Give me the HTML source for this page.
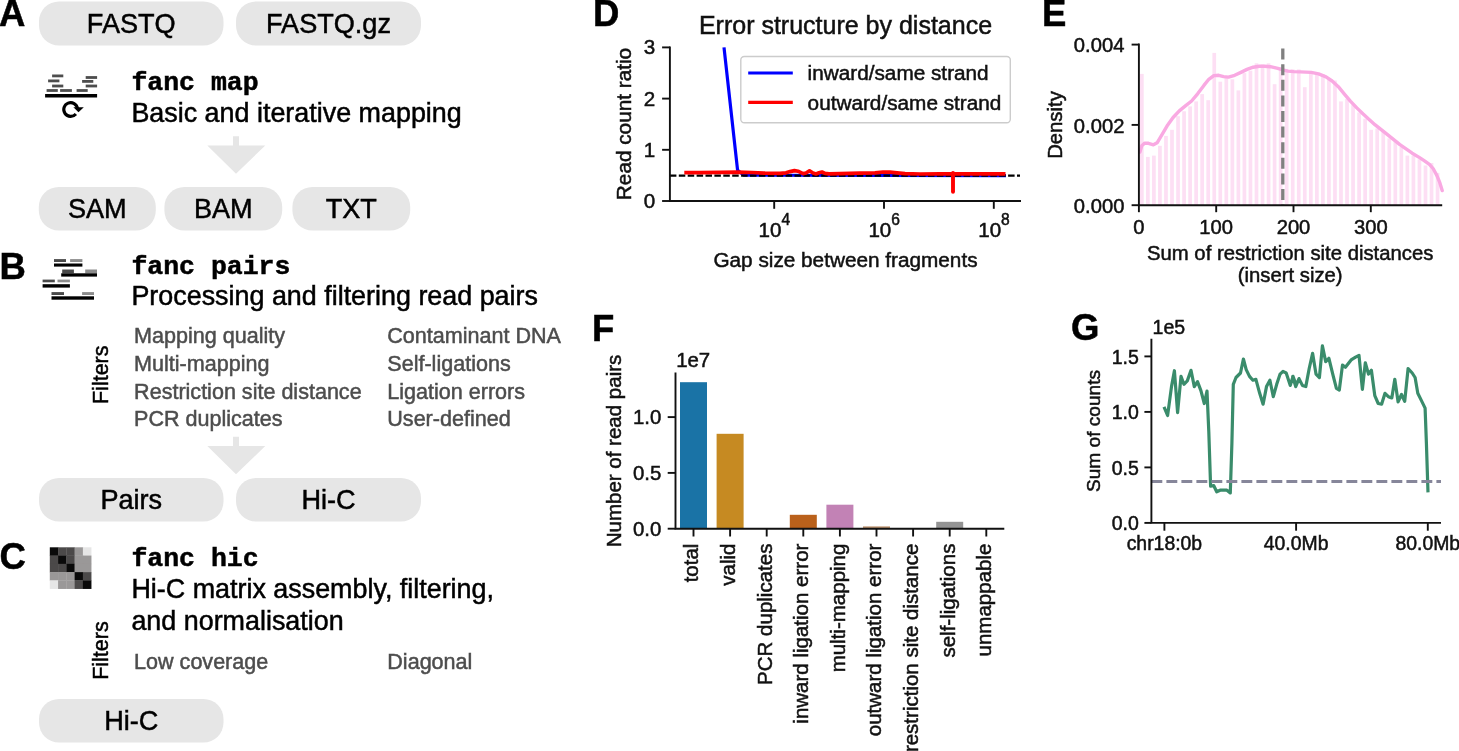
<!DOCTYPE html>
<html lang="en"><head><meta charset="utf-8"><title>FAN-C workflow figure</title>
<style>html,body{margin:0;padding:0;background:#fff;}body{width:1459px;height:751px;overflow:hidden;}svg{display:block;}text{stroke-width:0.5px;}text{font-family:"Liberation Sans", Arial, Helvetica, sans-serif;}</style></head><body>
<svg width="1459" height="751" viewBox="0 0 1459 751">
<rect width="1459" height="751" fill="#fff"/>
<g id="panelA">
<text x="-1" y="25.7" font-size="36.5" fill="#000" stroke="#000" font-weight="bold">A</text>
<rect x="39" y="1.5" width="184.5" height="44.0" rx="20" ry="20" fill="#e6e6e6"/>
<text x="131.25" y="32.7" font-size="27.1" fill="#000" stroke="#000" text-anchor="middle">FASTQ</text>
<rect x="236" y="1.5" width="185" height="44.0" rx="20" ry="20" fill="#e6e6e6"/>
<text x="328.5" y="32.7" font-size="27.1" fill="#000" stroke="#000" text-anchor="middle">FASTQ.gz</text>
<line x1="52.1" y1="75.9" x2="63.3" y2="75.9" stroke="#4d4d4d" stroke-width="2.8"/>
<line x1="48.1" y1="80.9" x2="59.4" y2="80.9" stroke="#4d4d4d" stroke-width="2.8"/>
<line x1="52.1" y1="86.0" x2="63.3" y2="86.0" stroke="#4d4d4d" stroke-width="2.8"/>
<line x1="46.6" y1="90.5" x2="57.8" y2="90.5" stroke="#4d4d4d" stroke-width="2.8"/>
<line x1="60.1" y1="90.5" x2="71.9" y2="90.5" stroke="#4d4d4d" stroke-width="2.8"/>
<line x1="76.6" y1="90.5" x2="87.7" y2="90.5" stroke="#4d4d4d" stroke-width="2.8"/>
<line x1="85.7" y1="77.5" x2="97.1" y2="77.5" stroke="#4d4d4d" stroke-width="2.8"/>
<line x1="82.1" y1="81.4" x2="93.3" y2="81.4" stroke="#4d4d4d" stroke-width="2.8"/>
<line x1="85.7" y1="86.0" x2="97.1" y2="86.0" stroke="#4d4d4d" stroke-width="2.8"/>
<line x1="45.1" y1="95.7" x2="97.1" y2="95.7" stroke="#000" stroke-width="3.6"/>
<path d="M 75.9 114.0 A 6.9 6.9 0 1 1 77.5 108.6" fill="none" stroke="#000" stroke-width="3.1"/>
<path d="M 73.4 107.2 L 83.8 107.2 L 78.5 112.2 Z" fill="#000"/>
<text x="131.4" y="89.6" font-size="26.5" fill="#000" stroke="#000" font-weight="bold" style='font-family:"Liberation Mono", "Courier New", monospace'>fanc map</text>
<text x="131.4" y="121.5" font-size="26.9" fill="#000" stroke="#000">Basic and iterative mapping</text>
<path d="M 233 136.2 H 239 V 145.39999999999998 H 265.3 L 236 173.7 L 207.3 145.39999999999998 H 233 Z" fill="#e6e6e6"/>
<rect x="38.8" y="187" width="117.00000000000001" height="43.5" rx="20" ry="20" fill="#e6e6e6"/>
<text x="97.30000000000001" y="218" font-size="27.1" fill="#000" stroke="#000" text-anchor="middle">SAM</text>
<rect x="164.4" y="187" width="117.79999999999998" height="43.5" rx="20" ry="20" fill="#e6e6e6"/>
<text x="223.3" y="218" font-size="27.1" fill="#000" stroke="#000" text-anchor="middle">BAM</text>
<rect x="292.4" y="187" width="117.80000000000001" height="43.5" rx="20" ry="20" fill="#e6e6e6"/>
<text x="351.29999999999995" y="218" font-size="27.1" fill="#000" stroke="#000" text-anchor="middle">TXT</text>
</g>
<g id="panelB">
<text x="-0.5" y="278.5" font-size="36.5" fill="#000" stroke="#000" font-weight="bold">B</text>
<rect x="54.00" y="259.10" width="12.00" height="2.90" fill="#4a4a4a"/>
<rect x="70.10" y="259.10" width="12.30" height="2.90" fill="#8c8c8c"/>
<rect x="54.00" y="263.50" width="28.40" height="3.10" fill="#000"/>
<rect x="62.20" y="269.50" width="11.70" height="3.80" fill="#4a4a4a"/>
<rect x="85.20" y="269.50" width="11.80" height="3.80" fill="#8c8c8c"/>
<rect x="61.20" y="273.30" width="35.80" height="3.30" fill="#000"/>
<rect x="42.60" y="279.60" width="12.20" height="2.70" fill="#4a4a4a"/>
<rect x="57.50" y="279.60" width="12.40" height="2.70" fill="#8c8c8c"/>
<rect x="42.60" y="284.20" width="27.30" height="3.40" fill="#000"/>
<rect x="51.50" y="292.10" width="12.50" height="2.90" fill="#4a4a4a"/>
<rect x="82.10" y="292.10" width="11.90" height="2.90" fill="#8c8c8c"/>
<rect x="51.50" y="296.30" width="42.50" height="3.40" fill="#000"/>
<text x="131.4" y="273.5" font-size="26.5" fill="#000" stroke="#000" font-weight="bold" style='font-family:"Liberation Mono", "Courier New", monospace'>fanc pairs</text>
<text x="131.4" y="304.8" font-size="26.9" fill="#000" stroke="#000">Processing and filtering read pairs</text>
<text x="134.1" y="343.3" font-size="21.55" fill="#4d4d4d" stroke="#4d4d4d">Mapping quality</text>
<text x="387.3" y="343.3" font-size="21.55" fill="#4d4d4d" stroke="#4d4d4d">Contaminant DNA</text>
<text x="134.1" y="370.9" font-size="21.55" fill="#4d4d4d" stroke="#4d4d4d">Multi-mapping</text>
<text x="387.3" y="370.9" font-size="21.55" fill="#4d4d4d" stroke="#4d4d4d">Self-ligations</text>
<text x="134.1" y="398.5" font-size="21.55" fill="#4d4d4d" stroke="#4d4d4d">Restriction site distance</text>
<text x="387.3" y="398.5" font-size="21.55" fill="#4d4d4d" stroke="#4d4d4d">Ligation errors</text>
<text x="134.1" y="426.1" font-size="21.55" fill="#4d4d4d" stroke="#4d4d4d">PCR duplicates</text>
<text x="387.3" y="426.1" font-size="21.55" fill="#4d4d4d" stroke="#4d4d4d">User-defined</text>
<text x="108.2" y="404.0" font-size="21.5" fill="#000" stroke="#000" transform="rotate(-90 108.2 404.0)">Filters</text>
<path d="M 233 436.8 H 239 V 446.0 H 265.3 L 236 474.3 L 207.3 446.0 H 233 Z" fill="#e6e6e6"/>
<rect x="39" y="478" width="184.5" height="43.5" rx="20" ry="20" fill="#e6e6e6"/>
<text x="131.25" y="509" font-size="27.1" fill="#000" stroke="#000" text-anchor="middle">Pairs</text>
<rect x="236" y="478" width="185" height="43.5" rx="20" ry="20" fill="#e6e6e6"/>
<text x="328.5" y="509" font-size="27.1" fill="#000" stroke="#000" text-anchor="middle">Hi-C</text>
</g>
<g id="panelC">
<text x="-0.5" y="569" font-size="36.5" fill="#000" stroke="#000" font-weight="bold">C</text>
<rect x="49.80" y="547.30" width="8.57" height="8.57" fill="#0a0a0a"/>
<rect x="58.07" y="547.30" width="8.57" height="8.57" fill="#4b4949"/>
<rect x="66.34" y="547.30" width="8.57" height="8.57" fill="#4b4949"/>
<rect x="74.61" y="547.30" width="8.57" height="8.57" fill="#9a9898"/>
<rect x="82.88" y="547.30" width="8.57" height="8.57" fill="#e6e6e6"/>
<rect x="49.80" y="555.57" width="8.57" height="8.57" fill="#4b4949"/>
<rect x="58.07" y="555.57" width="8.57" height="8.57" fill="#0a0a0a"/>
<rect x="66.34" y="555.57" width="8.57" height="8.57" fill="#4b4949"/>
<rect x="74.61" y="555.57" width="8.57" height="8.57" fill="#9a9898"/>
<rect x="82.88" y="555.57" width="8.57" height="8.57" fill="#9a9898"/>
<rect x="49.80" y="563.84" width="8.57" height="8.57" fill="#4b4949"/>
<rect x="58.07" y="563.84" width="8.57" height="8.57" fill="#4b4949"/>
<rect x="66.34" y="563.84" width="8.57" height="8.57" fill="#0a0a0a"/>
<rect x="74.61" y="563.84" width="8.57" height="8.57" fill="#9a9898"/>
<rect x="82.88" y="563.84" width="8.57" height="8.57" fill="#9a9898"/>
<rect x="49.80" y="572.11" width="8.57" height="8.57" fill="#9a9898"/>
<rect x="58.07" y="572.11" width="8.57" height="8.57" fill="#9a9898"/>
<rect x="66.34" y="572.11" width="8.57" height="8.57" fill="#9a9898"/>
<rect x="74.61" y="572.11" width="8.57" height="8.57" fill="#0a0a0a"/>
<rect x="82.88" y="572.11" width="8.57" height="8.57" fill="#4b4949"/>
<rect x="49.80" y="580.38" width="8.57" height="8.57" fill="#e6e6e6"/>
<rect x="58.07" y="580.38" width="8.57" height="8.57" fill="#9a9898"/>
<rect x="66.34" y="580.38" width="8.57" height="8.57" fill="#9a9898"/>
<rect x="74.61" y="580.38" width="8.57" height="8.57" fill="#4b4949"/>
<rect x="82.88" y="580.38" width="8.57" height="8.57" fill="#0a0a0a"/>
<text x="131.4" y="565.6" font-size="26.5" fill="#000" stroke="#000" font-weight="bold" style='font-family:"Liberation Mono", "Courier New", monospace'>fanc hic</text>
<text x="131.4" y="598.1" font-size="26.9" fill="#000" stroke="#000">Hi-C matrix assembly, filtering,</text>
<text x="131.4" y="629.8" font-size="26.9" fill="#000" stroke="#000">and normalisation</text>
<text x="134.1" y="668.8" font-size="21.55" fill="#4d4d4d" stroke="#4d4d4d">Low coverage</text>
<text x="387.3" y="668.8" font-size="21.55" fill="#4d4d4d" stroke="#4d4d4d">Diagonal</text>
<text x="108.2" y="679.8" font-size="21.5" fill="#000" stroke="#000" transform="rotate(-90 108.2 679.8)">Filters</text>
<rect x="39" y="699" width="184.5" height="43.5" rx="20" ry="20" fill="#e6e6e6"/>
<text x="131.25" y="730" font-size="27.1" fill="#000" stroke="#000" text-anchor="middle">Hi-C</text>
</g>
<g id="panelD">
<text x="593" y="25.7" font-size="36.5" fill="#000" stroke="#000" font-weight="bold">D</text>
<text x="845.5" y="34" font-size="25.0" fill="#111" stroke="#111" text-anchor="middle">Error structure by distance</text>
<path d="M 724 47.4 L 737.6 170.4 L 744 175.2 L 1006 175.7" fill="none" stroke="#0000ff" stroke-width="3.2" stroke-linejoin="round"/>
<line x1="669.9" y1="175.6" x2="1020" y2="175.6" stroke="#000" stroke-width="2.3" stroke-dasharray="6.5 2.4"/>
<path d="M 684.3 172.7 L 700.0 172.6 L 720.0 172.3 L 738.0 172.2 L 752.0 172.5 L 765.0 173.2 L 780.0 173.4 L 786.0 172.8 L 790.0 171.6 L 794.5 170.6 L 798.0 171.2 L 803.0 173.6 L 806.0 173.0 L 809.5 170.8 L 813.0 173.0 L 816.0 174.0 L 819.0 172.8 L 822.0 172.0 L 825.0 173.4 L 829.0 173.8 L 840.0 173.6 L 860.0 173.2 L 875.0 172.8 L 883.0 172.0 L 890.0 172.2 L 897.0 172.8 L 905.0 173.6 L 920.0 174.0 L 940.0 173.9 L 975.0 173.8 L 1005.5 173.9" fill="none" stroke="#ff0000" stroke-width="3.7" stroke-linejoin="round"/>
<line x1="953" y1="173" x2="953" y2="191.8" stroke="#ff0000" stroke-width="3.9" stroke-linecap="round"/>
<path d="M 669.9 46.6 V 201.0 H 1021.0" fill="none" stroke="#111" stroke-width="1.9"/>
<line x1="662.1" y1="201.0" x2="669.9" y2="201.0" stroke="#111" stroke-width="1.9"/>
<text x="655.2" y="208.0" font-size="20.6" fill="#111" stroke="#111" text-anchor="end">0</text>
<line x1="662.1" y1="149.8" x2="669.9" y2="149.8" stroke="#111" stroke-width="1.9"/>
<text x="655.2" y="156.8" font-size="20.6" fill="#111" stroke="#111" text-anchor="end">1</text>
<line x1="662.1" y1="98.6" x2="669.9" y2="98.6" stroke="#111" stroke-width="1.9"/>
<text x="655.2" y="105.6" font-size="20.6" fill="#111" stroke="#111" text-anchor="end">2</text>
<line x1="662.1" y1="47.4" x2="669.9" y2="47.4" stroke="#111" stroke-width="1.9"/>
<text x="655.2" y="54.4" font-size="20.6" fill="#111" stroke="#111" text-anchor="end">3</text>
<line x1="774.2" y1="201.0" x2="774.2" y2="208.8" stroke="#111" stroke-width="1.9"/>
<text x="758.6" y="237.3" font-size="20.6" fill="#111" stroke="#111">10<tspan dy="-12.2" font-size="15.6">4</tspan></text>
<line x1="884.0" y1="201.0" x2="884.0" y2="208.8" stroke="#111" stroke-width="1.9"/>
<text x="868.4" y="237.3" font-size="20.6" fill="#111" stroke="#111">10<tspan dy="-12.2" font-size="15.6">6</tspan></text>
<line x1="993.8" y1="201.0" x2="993.8" y2="208.8" stroke="#111" stroke-width="1.9"/>
<text x="978.2" y="237.3" font-size="20.6" fill="#111" stroke="#111">10<tspan dy="-12.2" font-size="15.6">8</tspan></text>
<text x="631" y="124" font-size="20.75" fill="#111" stroke="#111" text-anchor="middle" transform="rotate(-90 631 124)">Read count ratio</text>
<text x="845.5" y="266.7" font-size="20.75" fill="#111" stroke="#111" text-anchor="middle">Gap size between fragments</text>
<rect x="740.8" y="56.5" width="269.5" height="66.3" rx="3.5" ry="3.5" fill="#fff" fill-opacity="0.8" stroke="#cccccc" stroke-width="1.4"/>
<line x1="748.2" y1="73" x2="792.8" y2="73" stroke="#0000ff" stroke-width="3.2"/>
<line x1="748.2" y1="102.4" x2="792.8" y2="102.4" stroke="#ff0000" stroke-width="3.2"/>
<text x="807.6" y="80.2" font-size="20.75" fill="#111" stroke="#111">inward/same strand</text>
<text x="807.6" y="109.6" font-size="20.75" fill="#111" stroke="#111">outward/same strand</text>
</g>
<g id="panelE">
<text x="1042" y="25.7" font-size="36.5" fill="#000" stroke="#000" font-weight="bold">E</text>
<g fill="#fddff4">
<rect x="1139.98" y="73.9" width="3.7" height="131.3"/>
<rect x="1146.01" y="156.9" width="3.7" height="48.3"/>
<rect x="1152.05" y="155.6" width="3.7" height="49.6"/>
<rect x="1158.08" y="145.8" width="3.7" height="59.4"/>
<rect x="1164.12" y="135.9" width="3.7" height="69.3"/>
<rect x="1170.15" y="129.8" width="3.7" height="75.4"/>
<rect x="1176.19" y="116.2" width="3.7" height="89.0"/>
<rect x="1182.22" y="111.3" width="3.7" height="93.9"/>
<rect x="1188.26" y="106.4" width="3.7" height="98.8"/>
<rect x="1194.29" y="101.4" width="3.7" height="103.8"/>
<rect x="1200.33" y="94.1" width="3.7" height="111.1"/>
<rect x="1206.36" y="100.2" width="3.7" height="105.0"/>
<rect x="1212.40" y="52.9" width="3.7" height="152.3"/>
<rect x="1218.44" y="81.7" width="3.7" height="123.5"/>
<rect x="1224.47" y="78.0" width="3.7" height="127.2"/>
<rect x="1230.51" y="79.3" width="3.7" height="125.9"/>
<rect x="1236.54" y="90.4" width="3.7" height="114.8"/>
<rect x="1242.58" y="73.1" width="3.7" height="132.1"/>
<rect x="1248.61" y="70.7" width="3.7" height="134.5"/>
<rect x="1254.65" y="63.3" width="3.7" height="141.9"/>
<rect x="1260.68" y="64.5" width="3.7" height="140.7"/>
<rect x="1266.72" y="63.3" width="3.7" height="141.9"/>
<rect x="1272.75" y="84.2" width="3.7" height="121.0"/>
<rect x="1278.79" y="67.0" width="3.7" height="138.2"/>
<rect x="1284.82" y="68.9" width="3.7" height="136.3"/>
<rect x="1290.86" y="69.4" width="3.7" height="135.8"/>
<rect x="1296.90" y="69.4" width="3.7" height="135.8"/>
<rect x="1302.93" y="87.2" width="3.7" height="118.0"/>
<rect x="1308.97" y="71.9" width="3.7" height="133.3"/>
<rect x="1315.00" y="73.1" width="3.7" height="132.1"/>
<rect x="1321.04" y="74.3" width="3.7" height="130.9"/>
<rect x="1327.07" y="79.3" width="3.7" height="125.9"/>
<rect x="1333.11" y="80.5" width="3.7" height="124.7"/>
<rect x="1339.14" y="101.4" width="3.7" height="103.8"/>
<rect x="1345.18" y="99.0" width="3.7" height="106.2"/>
<rect x="1351.21" y="105.1" width="3.7" height="100.1"/>
<rect x="1357.25" y="112.5" width="3.7" height="92.7"/>
<rect x="1363.28" y="118.7" width="3.7" height="86.5"/>
<rect x="1369.32" y="129.8" width="3.7" height="75.4"/>
<rect x="1375.36" y="128.5" width="3.7" height="76.7"/>
<rect x="1381.39" y="131.0" width="3.7" height="74.2"/>
<rect x="1387.43" y="138.4" width="3.7" height="66.8"/>
<rect x="1393.46" y="142.1" width="3.7" height="63.1"/>
<rect x="1399.50" y="147.0" width="3.7" height="58.2"/>
<rect x="1405.53" y="155.6" width="3.7" height="49.6"/>
<rect x="1411.57" y="155.6" width="3.7" height="49.6"/>
<rect x="1417.60" y="159.3" width="3.7" height="45.9"/>
<rect x="1423.64" y="165.5" width="3.7" height="39.7"/>
<rect x="1429.67" y="163.0" width="3.7" height="42.2"/>
<rect x="1435.71" y="172.9" width="3.7" height="32.3"/>
</g>
<path d="M 1139.9 152.0 L 1141.8 145.8 L 1144.8 143.1 L 1148.5 143.3 L 1153.4 144.8 L 1157.1 142.8 L 1162.0 134.7 L 1167.0 126.1 L 1173.1 117.5 L 1179.3 110.8 L 1185.4 105.9 L 1191.6 101.0 L 1197.8 93.6 L 1203.9 85.4 L 1208.8 79.3 L 1213.8 75.6 L 1218.7 75.3 L 1223.6 76.6 L 1228.5 77.1 L 1234.7 75.3 L 1240.9 72.4 L 1247.0 69.4 L 1253.2 67.2 L 1259.3 66.2 L 1264.3 66.2 L 1270.4 66.7 L 1277.8 68.4 L 1282.7 69.9 L 1287.7 71.1 L 1293.8 71.6 L 1300.0 71.9 L 1300.1 71.9 L 1311.2 72.4 L 1318.6 73.9 L 1326.0 76.8 L 1332.1 81.0 L 1338.3 86.7 L 1344.4 94.1 L 1350.6 101.4 L 1356.8 107.9 L 1362.9 113.8 L 1369.1 119.4 L 1375.2 124.9 L 1387.5 134.7 L 1399.9 144.6 L 1412.2 153.2 L 1419.6 157.6 L 1424.5 160.8 L 1429.4 164.3 L 1433.1 168.5 L 1436.8 175.4 L 1439.8 182.7 L 1442.2 190.6" fill="none" stroke="#f9a9e2" stroke-width="3.4" stroke-linejoin="round" stroke-linecap="round"/>
<line x1="1282.8" y1="48.6" x2="1282.8" y2="205.2" stroke="#808080" stroke-width="3.3" stroke-dasharray="11 4.6"/>
<path d="M 1138.9 43.4 V 205.2 H 1442.2" fill="none" stroke="#111" stroke-width="1.9"/>
<line x1="1131.6000000000001" y1="205.2" x2="1138.9" y2="205.2" stroke="#111" stroke-width="1.9"/>
<text x="1124.4" y="212.9" font-size="20.2" fill="#111" stroke="#111" text-anchor="end">0.000</text>
<line x1="1131.6000000000001" y1="124.9" x2="1138.9" y2="124.9" stroke="#111" stroke-width="1.9"/>
<text x="1124.4" y="132.6" font-size="20.2" fill="#111" stroke="#111" text-anchor="end">0.002</text>
<line x1="1131.6000000000001" y1="44.6" x2="1138.9" y2="44.6" stroke="#111" stroke-width="1.9"/>
<text x="1124.4" y="52.3" font-size="20.2" fill="#111" stroke="#111" text-anchor="end">0.004</text>
<line x1="1138.9" y1="205.2" x2="1138.9" y2="212.2" stroke="#111" stroke-width="1.9"/>
<text x="1138.9" y="233.6" font-size="20.2" fill="#111" stroke="#111" text-anchor="middle">0</text>
<line x1="1216.2" y1="205.2" x2="1216.2" y2="212.2" stroke="#111" stroke-width="1.9"/>
<text x="1216.2" y="233.6" font-size="20.2" fill="#111" stroke="#111" text-anchor="middle">100</text>
<line x1="1293.5" y1="205.2" x2="1293.5" y2="212.2" stroke="#111" stroke-width="1.9"/>
<text x="1293.5" y="233.6" font-size="20.2" fill="#111" stroke="#111" text-anchor="middle">200</text>
<line x1="1370.8" y1="205.2" x2="1370.8" y2="212.2" stroke="#111" stroke-width="1.9"/>
<text x="1370.8" y="233.6" font-size="20.2" fill="#111" stroke="#111" text-anchor="middle">300</text>
<text x="1061.6" y="125" font-size="20.3" fill="#111" stroke="#111" text-anchor="middle" transform="rotate(-90 1061.6 125)">Density</text>
<text x="1290.2" y="260.3" font-size="20.3" fill="#111" stroke="#111" text-anchor="middle">Sum of restriction site distances</text>
<text x="1290.2" y="281.6" font-size="20.3" fill="#111" stroke="#111" text-anchor="middle">(insert size)</text>
</g>
<g id="panelF">
<text x="592" y="340.6" font-size="36.5" fill="#000" stroke="#000" font-weight="bold">F</text>
<text x="676.2" y="367.4" font-size="20.4" fill="#111" stroke="#111">1e7</text>
<rect x="680.0" y="382.2" width="27.0" height="146.5" fill="#1a73a6"/>
<line x1="693.5" y1="528.7" x2="693.5" y2="536.5" stroke="#111" stroke-width="1.9"/>
<text x="698.4" y="543.6" font-size="20.5" fill="#111" stroke="#111" text-anchor="end" transform="rotate(-90 698.4 543.6)">total</text>
<rect x="716.6" y="433.8" width="27.0" height="94.9" fill="#c68a22"/>
<line x1="730.1" y1="528.7" x2="730.1" y2="536.5" stroke="#111" stroke-width="1.9"/>
<text x="735.0" y="543.6" font-size="20.5" fill="#111" stroke="#111" text-anchor="end" transform="rotate(-90 735.0 543.6)">valid</text>
<line x1="766.7" y1="528.7" x2="766.7" y2="536.5" stroke="#111" stroke-width="1.9"/>
<text x="771.6" y="543.6" font-size="20.5" fill="#111" stroke="#111" text-anchor="end" transform="rotate(-90 771.6 543.6)">PCR duplicates</text>
<rect x="789.8" y="514.8" width="27.0" height="13.9" fill="#ba611b"/>
<line x1="803.3" y1="528.7" x2="803.3" y2="536.5" stroke="#111" stroke-width="1.9"/>
<text x="808.2" y="543.6" font-size="20.5" fill="#111" stroke="#111" text-anchor="end" transform="rotate(-90 808.2 543.6)">inward ligation error</text>
<rect x="826.4" y="504.7" width="27.0" height="24.0" fill="#c282b5"/>
<line x1="839.9" y1="528.7" x2="839.9" y2="536.5" stroke="#111" stroke-width="1.9"/>
<text x="844.8" y="543.6" font-size="20.5" fill="#111" stroke="#111" text-anchor="end" transform="rotate(-90 844.8 543.6)">multi-mapping</text>
<rect x="863.0" y="526.4" width="27.0" height="2.3" fill="#bd926e"/>
<line x1="876.5" y1="528.7" x2="876.5" y2="536.5" stroke="#111" stroke-width="1.9"/>
<text x="881.4" y="543.6" font-size="20.5" fill="#111" stroke="#111" text-anchor="end" transform="rotate(-90 881.4 543.6)">outward ligation error</text>
<line x1="913.1" y1="528.7" x2="913.1" y2="536.5" stroke="#111" stroke-width="1.9"/>
<text x="918.0" y="543.6" font-size="20.5" fill="#111" stroke="#111" text-anchor="end" transform="rotate(-90 918.0 543.6)">restriction site distance</text>
<rect x="936.2" y="521.8" width="27.0" height="6.9" fill="#949494"/>
<line x1="949.7" y1="528.7" x2="949.7" y2="536.5" stroke="#111" stroke-width="1.9"/>
<text x="954.6" y="543.6" font-size="20.5" fill="#111" stroke="#111" text-anchor="end" transform="rotate(-90 954.6 543.6)">self-ligations</text>
<line x1="986.3" y1="528.7" x2="986.3" y2="536.5" stroke="#111" stroke-width="1.9"/>
<text x="991.2" y="543.6" font-size="20.5" fill="#111" stroke="#111" text-anchor="end" transform="rotate(-90 991.2 543.6)">unmappable</text>
<path d="M 675.5 372.6 V 528.7 H 1004.3" fill="none" stroke="#111" stroke-width="1.9"/>
<line x1="667.7" y1="528.7" x2="675.5" y2="528.7" stroke="#111" stroke-width="1.9"/>
<text x="661.4" y="535.7" font-size="20.4" fill="#111" stroke="#111" text-anchor="end">0.0</text>
<line x1="667.7" y1="472.9" x2="675.5" y2="472.9" stroke="#111" stroke-width="1.9"/>
<text x="661.4" y="479.9" font-size="20.4" fill="#111" stroke="#111" text-anchor="end">0.5</text>
<line x1="667.7" y1="417.1" x2="675.5" y2="417.1" stroke="#111" stroke-width="1.9"/>
<text x="661.4" y="424.1" font-size="20.4" fill="#111" stroke="#111" text-anchor="end">1.0</text>
<text x="620.8" y="451" font-size="20.5" fill="#111" stroke="#111" text-anchor="middle" transform="rotate(-90 620.8 451)">Number of read pairs</text>
</g>
<g id="panelG">
<text x="1071" y="339.6" font-size="36.5" fill="#000" stroke="#000" font-weight="bold">G</text>
<text x="1152.6" y="333.5" font-size="19.5" fill="#111" stroke="#111">1e5</text>
<path d="M 1164.0 406.9 L 1167.6 415.5 L 1171.5 386.6 L 1174.4 370.7 L 1177.6 412.6 L 1181.0 376.4 L 1183.9 384.3 L 1187.3 380.9 L 1191.0 370.3 L 1194.3 386.6 L 1197.5 381.6 L 1200.9 390.6 L 1204.3 403.5 L 1207.0 391.1 L 1208.8 431.8 L 1210.6 486.1 L 1213.8 485.7 L 1216.7 491.8 L 1220.1 490.2 L 1226.9 490.2 L 1230.3 492.9 L 1231.9 443.1 L 1233.3 384.3 L 1236.0 377.5 L 1240.5 373.0 L 1243.4 359.0 L 1246.2 369.6 L 1249.5 376.4 L 1252.9 380.2 L 1255.9 379.3 L 1259.7 393.3 L 1263.1 404.2 L 1266.5 386.6 L 1269.9 380.2 L 1273.3 396.7 L 1276.7 384.3 L 1280.1 374.1 L 1283.0 371.4 L 1286.2 373.0 L 1290.3 385.4 L 1293.0 376.4 L 1295.9 384.3 L 1292.7 376.4 L 1295.7 386.6 L 1299.0 378.6 L 1302.4 385.4 L 1305.8 386.6 L 1309.2 368.5 L 1312.6 353.3 L 1316.0 374.1 L 1319.4 377.5 L 1322.4 345.8 L 1325.7 361.7 L 1328.9 358.3 L 1333.0 375.2 L 1336.4 388.4 L 1339.3 390.0 L 1342.5 365.1 L 1345.4 367.3 L 1351.1 359.9 L 1355.6 357.1 L 1359.0 355.3 L 1362.4 389.3 L 1365.3 362.8 L 1368.5 374.1 L 1371.4 370.3 L 1374.8 395.6 L 1378.2 403.5 L 1381.6 404.2 L 1385.0 393.3 L 1388.4 396.7 L 1391.8 397.9 L 1394.8 379.3 L 1398.1 401.9 L 1401.5 394.5 L 1404.7 401.3 L 1408.1 368.5 L 1412.2 373.0 L 1415.1 377.5 L 1417.8 393.3 L 1421.2 400.1 L 1425.1 408.1 L 1426.4 443.1 L 1428.0 492.4" fill="none" stroke="#3a8c6b" stroke-width="3.2" stroke-linejoin="round"/>
<line x1="1151.4" y1="481.5" x2="1441" y2="481.5" stroke="#86869a" stroke-width="3.1" stroke-dasharray="10.9 4.1"/>
<path d="M 1151.4 338.8 V 522.9 H 1441" fill="none" stroke="#111" stroke-width="1.9"/>
<line x1="1144.4" y1="522.9" x2="1151.4" y2="522.9" stroke="#111" stroke-width="1.9"/>
<text x="1138.8" y="530.2" font-size="19.5" fill="#111" stroke="#111" text-anchor="end">0.0</text>
<line x1="1144.4" y1="467.4" x2="1151.4" y2="467.4" stroke="#111" stroke-width="1.9"/>
<text x="1138.8" y="474.7" font-size="19.5" fill="#111" stroke="#111" text-anchor="end">0.5</text>
<line x1="1144.4" y1="411.9" x2="1151.4" y2="411.9" stroke="#111" stroke-width="1.9"/>
<text x="1138.8" y="419.2" font-size="19.5" fill="#111" stroke="#111" text-anchor="end">1.0</text>
<line x1="1144.4" y1="356.4" x2="1151.4" y2="356.4" stroke="#111" stroke-width="1.9"/>
<text x="1138.8" y="363.7" font-size="19.5" fill="#111" stroke="#111" text-anchor="end">1.5</text>
<line x1="1164.4" y1="522.9" x2="1164.4" y2="530.6999999999999" stroke="#111" stroke-width="1.9"/>
<text x="1164.4" y="550.3" font-size="19.4" fill="#111" stroke="#111" text-anchor="middle">chr18:0b</text>
<line x1="1296.1" y1="522.9" x2="1296.1" y2="530.6999999999999" stroke="#111" stroke-width="1.9"/>
<text x="1296.1" y="550.3" font-size="19.4" fill="#111" stroke="#111" text-anchor="middle">40.0Mb</text>
<line x1="1427.8" y1="522.9" x2="1427.8" y2="530.6999999999999" stroke="#111" stroke-width="1.9"/>
<text x="1427.8" y="550.3" font-size="19.4" fill="#111" stroke="#111" text-anchor="middle">80.0Mb</text>
<text x="1100" y="431" font-size="19.1" fill="#111" stroke="#111" text-anchor="middle" transform="rotate(-90 1100 431)">Sum of counts</text>
</g>
</svg></body></html>
